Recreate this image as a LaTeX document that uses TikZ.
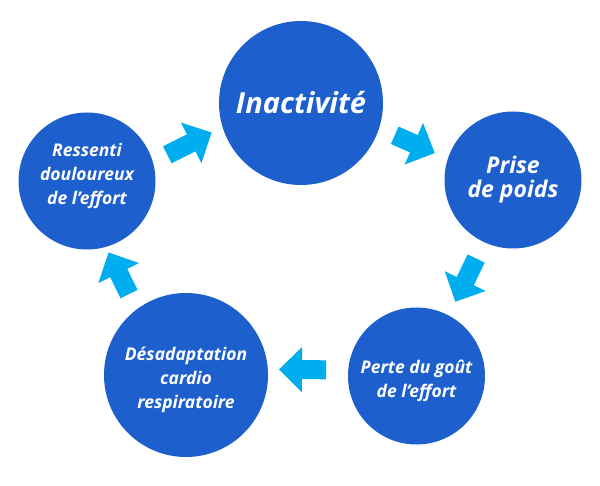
\documentclass[tikz,border=0pt]{standalone}
\usepackage{fontspec}
\usetikzlibrary{arrows.meta}
\newfontfamily\cyclefont{Open Sans}
\definecolor{cycleblue}{HTML}{1D5FCD}
\definecolor{cyclecyan}{HTML}{00AEEF}
\tikzset{
  bubble/.style={circle,fill=cycleblue,inner sep=0pt},
  big bubble/.style={bubble,minimum size=164pt},
  small bubble/.style={bubble,minimum size=137pt},
  caption/.style={text=white,align=center,inner sep=0pt,
    font=\cyclefont\bfseries\itshape\fontsize{17.5}{24}\selectfont},
  flow/.style={draw=cyclecyan,line width=19pt,-{Triangle[width=44pt,length=23pt]}}
}
\begin{document}
\begin{tikzpicture}[x=1pt,y=-1pt]
  \useasboundingbox (0,0) rectangle (600,486);
  \node[big bubble] (inact) at (301,103) {};
  \node[small bubble] (prise) at (513,180) {};
  \node[small bubble] (perte) at (416.5,376) {};
  \node[big bubble] (desad) at (186,375) {};
  \node[small bubble] (ressenti) at (87,181) {};
  % texts
  \node[caption,font=\cyclefont\bfseries\itshape\fontsize{29}{34}\selectfont]
    (inact text) at (inact) {Inactivité};
  \node[caption,font=\cyclefont\bfseries\itshape\fontsize{23}{24}\selectfont]
    (prise text) at (prise) {Prise\\de poids};
  \node[caption] (perte text) at ([yshift=-4.5pt]perte.center) {Perte du goût\\de l’effort};
  \node[caption] (desad text) at ([yshift=-4.5pt]desad.center) {Désadaptation\\cardio\\respiratoire};
  \node[caption] (ressenti text) at ([yshift=5.5pt]ressenti.center) {Ressenti\\douloureux\\de l’effort};
  % cycle arrows
  \draw[flow,shorten <=16pt,shorten >=12pt] (ressenti.16) -- (inact.197);
  \draw[flow,shorten <=17pt,shorten >=14pt] (inact.342) -- (prise.162);
  \draw[flow,shorten <=18pt,shorten >=15pt] (prise.245) -- (perte.62);
  \draw[flow,shorten <=22pt,shorten >=11pt] (perte.175) -- (desad.4);
  \draw[flow,shorten <=17pt,shorten >=6pt] (desad.127) -- (ressenti.286);
\end{tikzpicture}
\end{document}
